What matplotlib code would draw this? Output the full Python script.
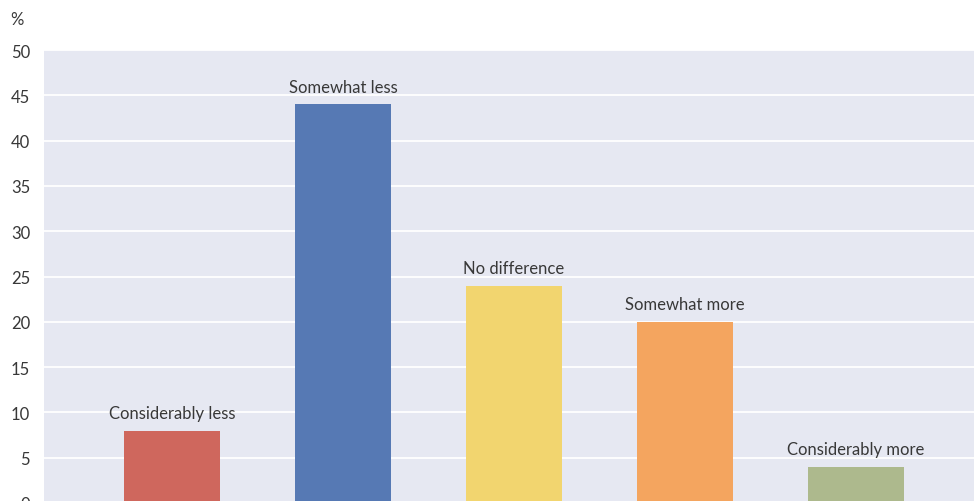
import matplotlib.pyplot as plt

categories = ["Considerably less", "Somewhat less", "No difference", "Somewhat more", "Considerably more"]
values = [8, 44, 24, 20, 4]
colors = ["#cf675d", "#5679b4", "#f2d56f", "#f4a55f", "#adb98d"]
yticks = [0, 5, 10, 15, 20, 25, 30, 35, 40, 45, 50]

plt.rcParams["font.family"] = ["Lato", "DejaVu Sans"]
text_color = "#383838"

fig = plt.figure(figsize=(9.74, 5.02), dpi=100)
ax = fig.add_axes([44 / 974, -2 / 502, 930 / 974, 453 / 502])
ax.set_facecolor("#e6e8f2")

x = list(range(len(categories)))
ax.bar(x, values, width=0.56, color=colors, zorder=3)

# category names sit just above each bar
for xi, v, name in zip(x, values, categories):
    ax.annotate(name, (xi, v), xytext=(0, 7), textcoords="offset points",
                ha="center", va="bottom", fontsize=12, color=text_color, zorder=4)

ax.set_xlim(-0.749, 4.69)
ax.set_ylim(0, 50)
ax.set_yticks(yticks)
ax.set_yticklabels([str(t) for t in yticks], fontsize=12, color=text_color)
ax.set_xticks([])
ax.tick_params(axis="y", length=0, pad=10)
ax.yaxis.grid(True, color="white", linewidth=1.3, zorder=0)
ax.set_axisbelow(True)
for s in ax.spines.values():
    s.set_visible(False)

fig.text(10 / 974, 1 - 20 / 502, "%", fontsize=12, color=text_color,
         va="center", ha="left")

plt.savefig("out.png", dpi=100)
